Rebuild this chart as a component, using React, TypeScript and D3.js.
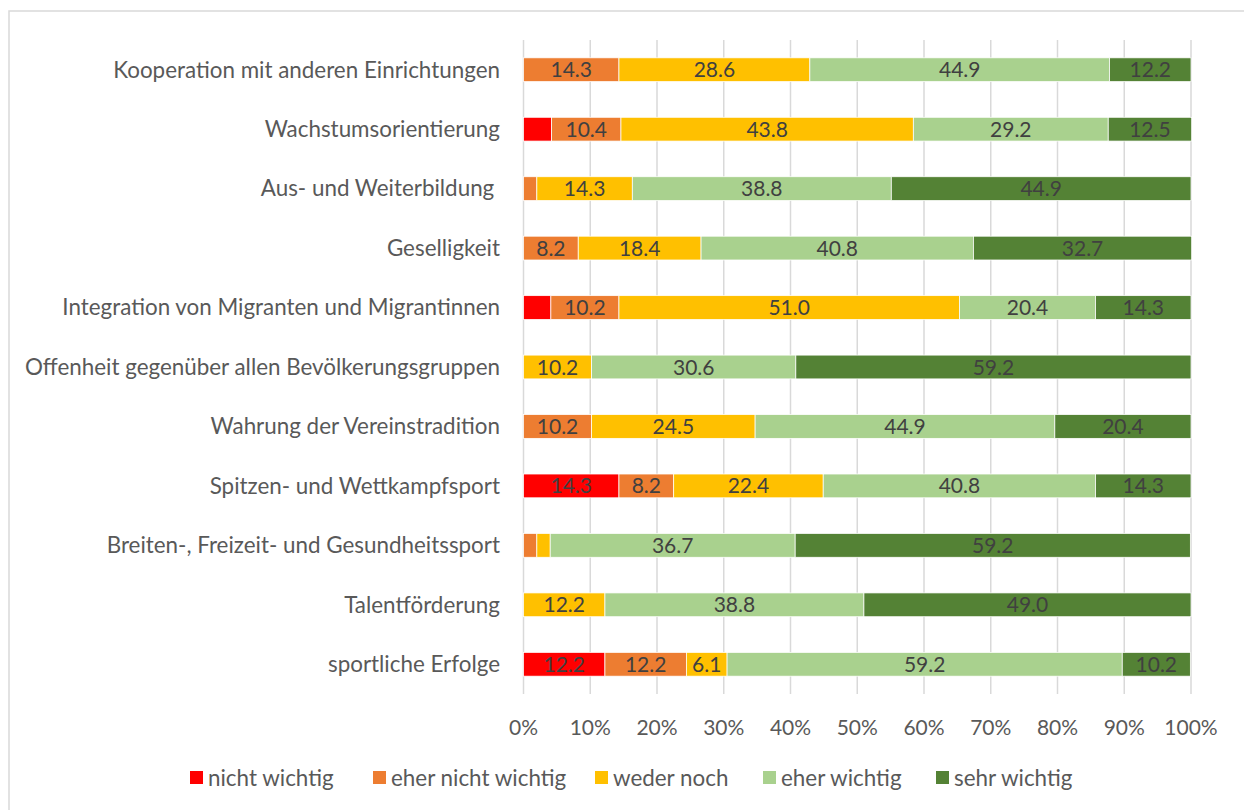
import React, { useEffect, useRef } from "react";
import * as d3 from "d3";

// categories, top to bottom
const categories = [
  "Kooperation mit anderen Einrichtungen",
  "Wachstumsorientierung",
  "Aus- und Weiterbildung ",
  "Geselligkeit",
  "Integration von Migranten und Migrantinnen",
  "Offenheit gegenüber allen Bevölkerungsgruppen",
  "Wahrung der Vereinstradition",
  "Spitzen- und Wettkampfsport",
  "Breiten-, Freizeit- und Gesundheitssport",
  "Talentförderung",
  "sportliche Erfolge",
];

const seriesNames = ["nicht wichtig", "eher nicht wichtig", "weder noch", "eher wichtig", "sehr wichtig"];
const seriesColors = ["#FF0000", "#ED7D31", "#FFC000", "#A9D18E", "#548235"];

const nichtWichtig = [0, 4.2, 0, 0, 4.1, 0, 0, 14.3, 0, 0, 12.2];
const eherNichtWichtig = [14.3, 10.4, 2.0, 8.2, 10.2, 0, 10.2, 8.2, 2.0, 0, 12.2];
const wederNoch = [28.6, 43.8, 14.3, 18.4, 51.0, 10.2, 24.5, 22.4, 2.0, 12.2, 6.1];
const eherWichtig = [44.9, 29.2, 38.8, 40.8, 20.4, 30.6, 44.9, 40.8, 36.7, 38.8, 59.2];
const sehrWichtig = [12.2, 12.5, 44.9, 32.7, 14.3, 59.2, 20.4, 14.3, 59.2, 49.0, 10.2];

const xTicks = [0, 10, 20, 30, 40, 50, 60, 70, 80, 90, 100];

const FONT = "Lato, 'Open Sans', sans-serif";

export default function App() {
  const ref = useRef<SVGSVGElement>(null);

  useEffect(() => {
    const svg = d3.select(ref.current);
    svg.selectAll("*").remove();

    const rows = categories.map((c, i) => ({
      cat: c,
      s0: nichtWichtig[i],
      s1: eherNichtWichtig[i],
      s2: wederNoch[i],
      s3: eherWichtig[i],
      s4: sehrWichtig[i],
    }));
    const keys = ["s0", "s1", "s2", "s3", "s4"];
    const stacked = d3.stack<any>().keys(keys)(rows);

    const x = d3.scaleLinear().domain([0, 100]).range([523.5, 1191]);
    const y = d3.scaleBand().domain(categories).range([40, 694]).paddingInner(0.6).paddingOuter(0.3);

    // chart border
    svg.append("rect")
      .attr("x", 9).attr("y", 11).attr("width", 1400).attr("height", 1000)
      .attr("fill", "none").attr("stroke", "#d9d9d9").attr("stroke-width", 1.5);

    // gridlines
    svg.append("g").selectAll("line")
      .data(xTicks)
      .enter().append("line")
      .attr("x1", d => x(d)).attr("x2", d => x(d))
      .attr("y1", 40).attr("y2", 694)
      .attr("stroke", "#d9d9d9").attr("stroke-width", 1.5);

    // tick labels
    svg.append("g").selectAll("text")
      .data(xTicks)
      .enter().append("text")
      .attr("x", d => x(d)).attr("y", 735)
      .attr("text-anchor", "middle")
      .attr("font-family", FONT).attr("font-size", 21).attr("fill", "#595959")
      .text(d => d + "%");

    // category labels
    svg.append("g").selectAll("text")
      .data(categories)
      .enter().append("text")
      .attr("x", 500).attr("y", d => (y(d) as number) + y.bandwidth() / 2)
      .attr("dy", "0.35em")
      .attr("text-anchor", "end")
      .style("white-space", "pre")
      .attr("font-family", FONT).attr("font-size", 22.4).attr("fill", "#595959")
      .text(d => d);

    // bars
    const layers = svg.append("g").selectAll("g")
      .data(stacked)
      .enter().append("g")
      .attr("fill", (d, i) => seriesColors[i]);

    layers.selectAll("rect")
      .data(d => d.filter(p => p[1] - p[0] > 0))
      .enter().append("rect")
      .attr("x", p => x(p[0]))
      .attr("width", p => x(p[1]) - x(p[0]))
      .attr("y", p => y(p.data.cat) as number)
      .attr("height", y.bandwidth())
      .attr("stroke", "#fff").attr("stroke-width", 0.75);

    // data labels (small segments are not labelled)
    layers.selectAll("text")
      .data(d => d.filter(p => p[1] - p[0] >= 5))
      .enter().append("text")
      .attr("x", p => (x(p[0]) + x(p[1])) / 2)
      .attr("y", p => (y(p.data.cat) as number) + y.bandwidth() / 2)
      .attr("dy", "0.36em")
      .attr("text-anchor", "middle")
      .attr("font-family", FONT).attr("font-size", 21).attr("fill", "#404040")
      .text(p => (p[1] - p[0]).toFixed(1));

    // legend
    const legendX = [190, 373, 595, 763, 936];
    const legend = svg.append("g").selectAll("g")
      .data(seriesNames)
      .enter().append("g")
      .attr("transform", (d, i) => "translate(" + legendX[i] + ",771)");
    legend.append("rect")
      .attr("width", 13).attr("height", 13)
      .attr("fill", (d, i) => seriesColors[i]);
    legend.append("text")
      .attr("x", 18).attr("y", 6.5).attr("dy", "0.36em")
      .attr("font-family", FONT).attr("font-size", 22.4).attr("fill", "#595959")
      .text(d => d);
  }, []);

  return (
    <svg ref={ref} width={1244} height={810}
      style={{ position: "absolute", left: 0, top: 0, background: "#fff" }} />
  );
}
